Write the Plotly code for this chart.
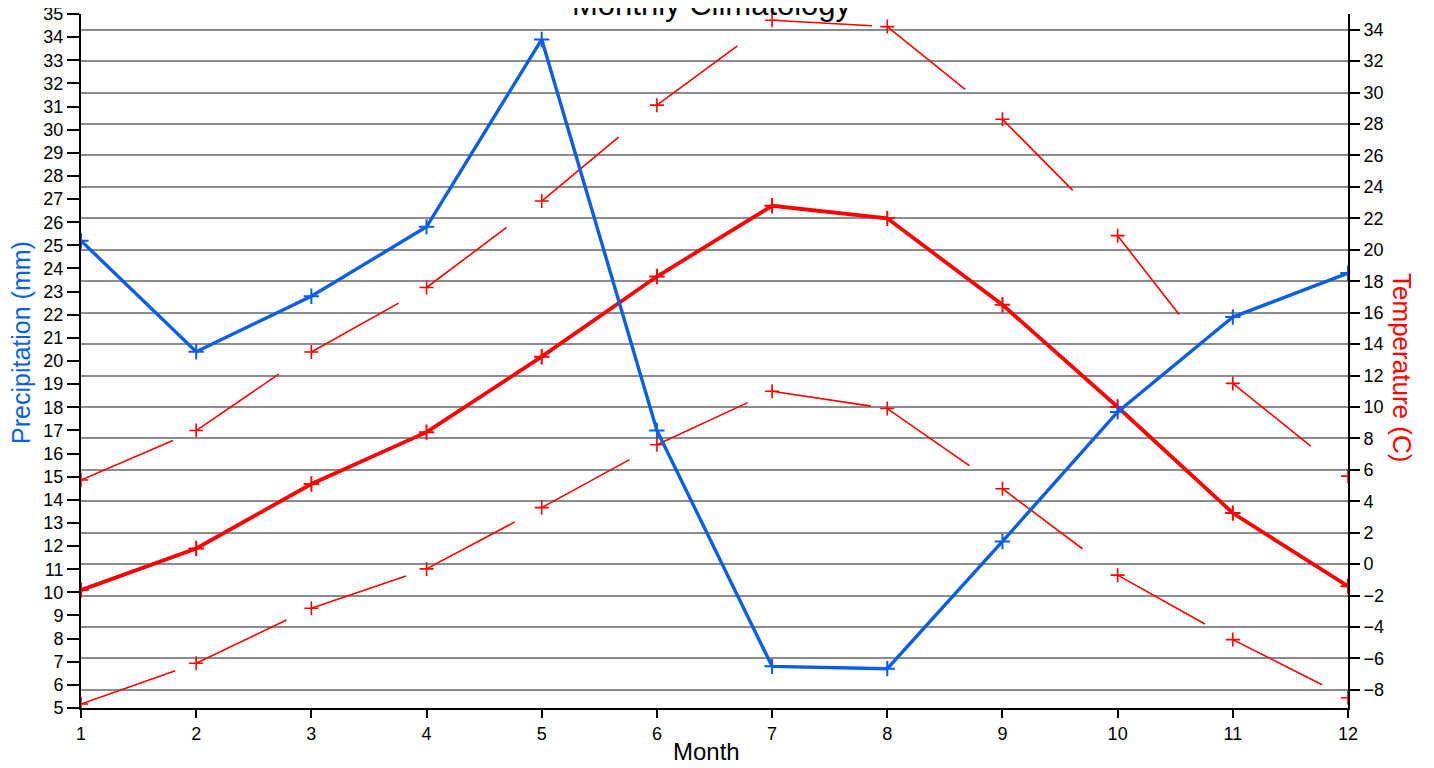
import plotly.graph_objects as go

months = list(range(1, 13))
precip = [25.2, 20.4, 22.8, 25.8, 33.9, 17.0, 6.8, 6.7, 12.2, 17.8, 21.9, 23.8]
temp_mean = [-1.65, 1.0, 5.1, 8.4, 13.2, 18.3, 22.8, 22.0, 16.5, 10.0, 3.25, -1.4]
temp_max = [5.35, 8.5, 13.5, 17.6, 23.1, 29.2, 34.6, 34.2, 28.3, 20.9, 11.5, 5.6]
temp_min = [-8.9, -6.3, -2.8, -0.3, 3.6, 7.6, 11.0, 9.9, 4.8, -0.7, -4.8, -8.5]
temp_ticks = list(range(-8, 35, 2))
precip_ticks = list(range(5, 36, 1))

BLUE = "#0a5fe6"
RED = "#ff0000"
FONT = "Liberation Sans, Arial, sans-serif"

fig = go.Figure()

# thin dashed max/min temperature lines (dash restarts at every point)
for series in (temp_max, temp_min):
    for i in range(len(months) - 1):
        fig.add_trace(go.Scatter(
            x=months[i:i + 2], y=series[i:i + 2], mode="lines",
            line=dict(color=RED, width=1.6, dash="100px,2000px"),
            showlegend=False, hoverinfo="skip", yaxis="y"))
    fig.add_trace(go.Scatter(
        x=months, y=series, mode="markers",
        marker=dict(symbol="cross-thin", size=10, line=dict(color=RED, width=1.6)),
        showlegend=False, yaxis="y"))

# mean temperature
fig.add_trace(go.Scatter(
    x=months, y=temp_mean, mode="lines+markers",
    line=dict(color=RED, width=3.8),
    marker=dict(symbol="cross-thin", size=11, color=RED, line=dict(color=RED, width=2)),
    showlegend=False, yaxis="y"))

# precipitation
fig.add_trace(go.Scatter(
    x=months, y=precip, mode="lines+markers",
    line=dict(color=BLUE, width=3.4),
    marker=dict(symbol="cross-thin", size=11, color=BLUE, line=dict(color=BLUE, width=2)),
    showlegend=False, yaxis="y2"))

TICKFONT = dict(size=18, family=FONT, color="black")

fig.update_layout(
    width=1426, height=760,
    margin=dict(l=73, r=86, t=6, b=60, autoexpand=False),
    paper_bgcolor="white", plot_bgcolor="white",
    font=dict(family=FONT, color="black", size=16),
    showlegend=False,
    xaxis=dict(
        range=[1, 12], tickvals=months, showgrid=False, zeroline=False,
        showline=True, linecolor="black", linewidth=2, automargin=False,
        ticks="outside", ticklen=8, tickwidth=2, tickcolor="black",
        tickfont=TICKFONT, ticklabeloverflow="allow",
    ),
    yaxis=dict(
        side="right", range=[-9.15, 35.0], tickvals=temp_ticks,
        showgrid=True, gridcolor="#8c8c8c", gridwidth=2, zeroline=False,
        showline=True, linecolor="black", linewidth=2, automargin=False,
        ticks="outside", ticklen=10, tickwidth=2, tickcolor="black",
        tickfont=TICKFONT, ticklabeloverflow="allow",
    ),
    yaxis2=dict(
        side="left", overlaying="y", range=[5, 35], tickvals=precip_ticks,
        showgrid=False, zeroline=False, automargin=False,
        showline=True, linecolor="black", linewidth=2,
        ticks="outside", ticklen=12, tickwidth=2, tickcolor="black",
        tickfont=TICKFONT, ticklabeloverflow="allow",
    ),
    annotations=[
        dict(text="Monthly Climatology", xref="paper", yref="paper",
             x=0.4984, y=1.014, xanchor="center", yanchor="middle",
             showarrow=False, font=dict(size=31, family=FONT, color="black")),
        dict(text="Month", xref="paper", yref="paper",
             x=0.4933, y=-0.0634, xanchor="center", yanchor="middle",
             showarrow=False, font=dict(size=24, family=FONT, color="black")),
        dict(text="Precipitation (mm)", xref="paper", yref="paper",
             x=-0.0474, y=0.5274, xanchor="center", yanchor="middle", textangle=-90,
             showarrow=False, font=dict(size=25, family=FONT, color=BLUE)),
        dict(text="Temperature (C)", xref="paper", yref="paper",
             x=1.0426, y=0.4899, xanchor="center", yanchor="middle", textangle=90,
             showarrow=False, font=dict(size=26, family=FONT, color=RED)),
    ],
)

fig.write_html("out.html")
